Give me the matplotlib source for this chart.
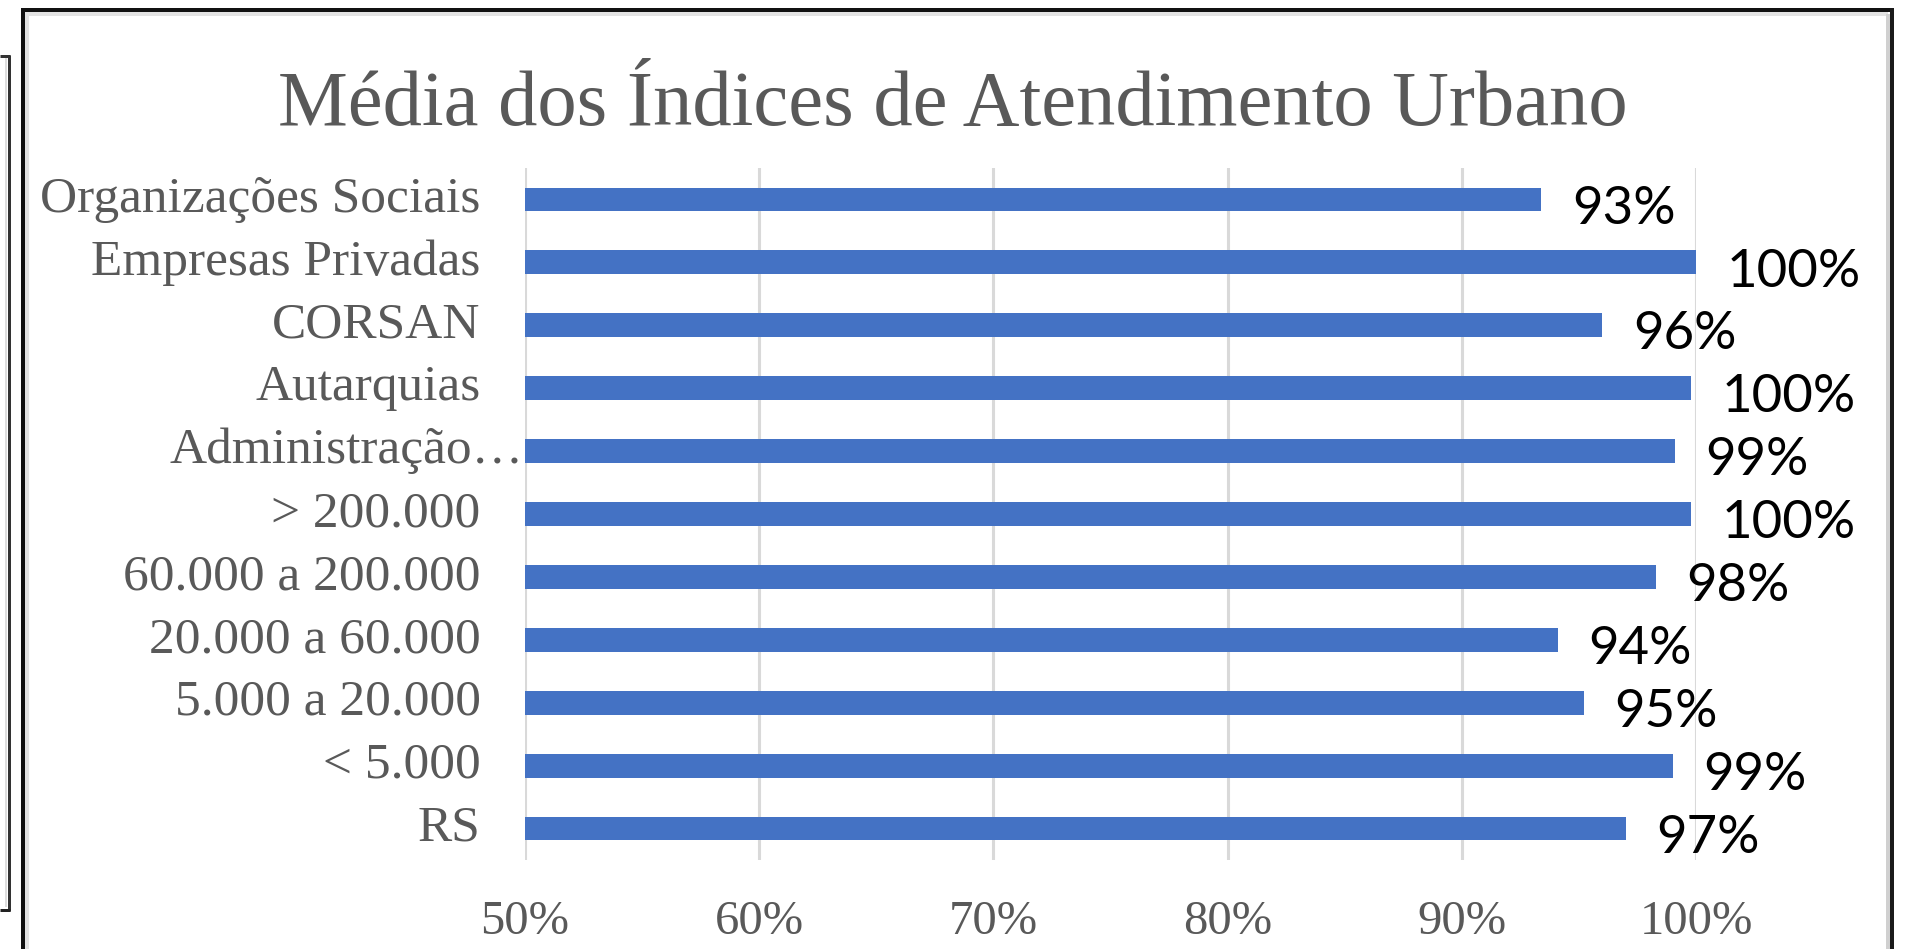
import matplotlib
matplotlib.use("Agg")
import matplotlib.pyplot as plt
from matplotlib.lines import Line2D

# data (top to bottom)
categories = ["Organizações Sociais", "Empresas Privadas", "CORSAN", "Autarquias",
              "Administração…", "> 200.000", "60.000 a 200.000", "20.000 a 60.000",
              "5.000 a 20.000", "< 5.000", "RS"]
values = [0.934, 1.000, 0.960, 0.998, 0.991, 0.998, 0.983, 0.941, 0.952, 0.990, 0.970]
value_labels = ["93%", "100%", "96%", "100%", "99%", "100%", "98%", "94%", "95%", "99%", "97%"]
xticks = [0.5, 0.6, 0.7, 0.8, 0.9, 1.0]
xtick_labels = ["50%", "60%", "70%", "80%", "90%", "100%"]

W, H = 1905, 949
GRAY_TXT = "#595959"
BAR = "#4472C4"
SERIF = "Liberation Serif"


def px_line(fig, xs, ys, color, width_px):
    # line in figure pixel coordinates (y measured from the top)
    fig.add_artist(Line2D([x / W for x in xs], [1 - y / H for y in ys],
                          color=color, linewidth=width_px * 0.72,
                          solid_capstyle="butt"))


def main():
    fig = plt.figure(figsize=(W / 100, H / 100), dpi=100)
    ax = fig.add_axes([525 / W, 1 - 860 / H, (1696 - 525) / W, (860 - 168) / H])

    n = len(categories)
    ypos = [n - 1 - i for i in range(n)]

    ax.barh(ypos, values, height=0.38, left=0, color=BAR, zorder=3)
    ax.set_xlim(0.5, 1.0)
    ax.set_ylim(-0.5, n - 0.5)

    # value labels to the right of each bar
    for y, v, lab in zip(ypos, values, value_labels):
        ax.annotate(lab, xy=(v, y), xytext=(22, -7), textcoords="offset points",
                    ha="left", va="center", fontsize=38, family="Lato",
                    color="black", annotation_clip=False)

    # category labels (Administração… overflows up to the axis like Excel)
    ax.set_yticks([])
    for y, cat in zip(ypos, categories):
        off = -1 if cat.endswith("…") else -32
        ax.annotate(cat, xy=(0, y), xycoords=("axes fraction", "data"),
                    xytext=(off, 0), textcoords="offset points",
                    ha="right", va="center", fontsize=37, family=SERIF,
                    color=GRAY_TXT, annotation_clip=False)

    ax.set_xticks(xticks)
    ax.set_xticklabels(xtick_labels, family=SERIF, fontsize=35, color=GRAY_TXT)
    ax.tick_params(axis="x", length=0, pad=29)
    ax.grid(axis="x", color="#D9D9D9", linewidth=2.2, zorder=0)
    for s in ax.spines.values():
        s.set_visible(False)

    fig.text(953 / W, 1 - 125 / H, "Média dos Índices de Atendimento Urbano",
             ha="center", va="baseline", fontsize=56.5, family=SERIF, color=GRAY_TXT)

    # chart frame (screenshot border)
    px_line(fig, [27, 27], [14, H + 5], "#E3E3E3", 4)
    px_line(fig, [25, 1888], [14, 14], "#E3E3E3", 4)
    px_line(fig, [1888, 1888], [14, H + 5], "#D0D0D0", 4)
    px_line(fig, [23, 23], [8, H + 5], "#111111", 4)
    px_line(fig, [21, 1894], [10, 10], "#111111", 4)
    px_line(fig, [1892, 1892], [8, H + 5], "#1A1A1A", 4)

    # neighbouring box cut off at the left edge
    px_line(fig, [6, 6], [58, 907], "#DDDDDD", 2)
    px_line(fig, [8.5, 8.5], [55, 911], "#333333", 3)
    px_line(fig, [0, 10], [56, 56], "#333333", 3)
    px_line(fig, [0, 10], [910, 910], "#222222", 3)

    fig.savefig("out.png", dpi=100)


if __name__ == "__main__":
    main()
